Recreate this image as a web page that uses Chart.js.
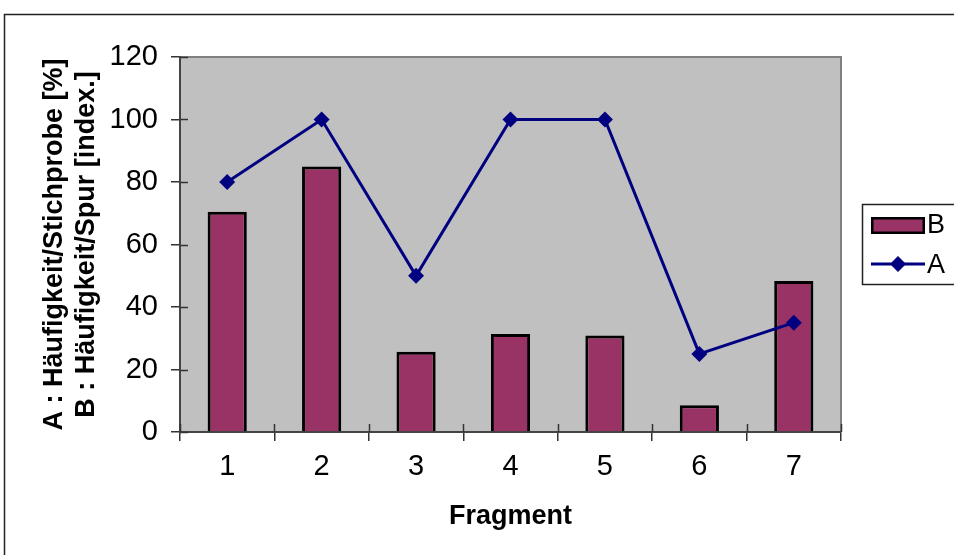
<!DOCTYPE html>
<html>
<head>
<meta charset="utf-8">
<script src="https://cdn.jsdelivr.net/npm/chart.js@4"></script>
<style>
  html, body { margin: 0; padding: 0; background: #fff; }
  #wrap { width: 954px; height: 555px; }
</style>
</head>
<body>
<div id="wrap"><canvas id="fragmentChart" width="954" height="555"></canvas></div>
<script>
// Fragment numbers and the two measured series
const fragments = ['1', '2', '3', '4', '5', '6', '7'];
const spurB = [70.5, 85, 25.7, 31.4, 30.9, 8.6, 48.3];
const stichprobeA = [80, 100, 50, 100, 100, 25, 35];
const yMin = 0;
const yMax = 120;
const yStep = 20;

const FONT = "'Liberation Sans', Arial, sans-serif";

// gray plot background, outer frame, cross ticks and legend box
const excelLook = {
  id: 'excelLook',
  beforeDraw(chart) {
    const { ctx, chartArea: a } = chart;
    ctx.save();
    ctx.fillStyle = '#fff';
    ctx.fillRect(0, 0, chart.width, chart.height);
    ctx.strokeStyle = '#222';
    ctx.lineWidth = 1.5;
    ctx.strokeRect(4.5, 14.5, chart.width + 20, chart.height + 20);
    ctx.fillStyle = '#c0c0c0';
    ctx.fillRect(a.left, a.top, a.right - a.left, a.bottom - a.top);
    ctx.strokeStyle = '#808080';
    ctx.lineWidth = 2;
    ctx.beginPath();
    ctx.moveTo(a.left, a.top);
    ctx.lineTo(a.right, a.top);
    ctx.lineTo(a.right, a.bottom);
    ctx.stroke();
    ctx.restore();
  },
  afterDraw(chart) {
    const { ctx, chartArea: a, scales } = chart;
    ctx.save();
    ctx.strokeStyle = '#333';
    ctx.lineWidth = 1.5;
    // inner halves of the ticks
    scales.y.ticks.forEach((t, i) => {
      const y = Math.round(scales.y.getPixelForTick(i)) + 0.5;
      ctx.beginPath();
      ctx.moveTo(a.left, y);
      ctx.lineTo(a.left + 8, y);
      ctx.stroke();
    });
    const n = fragments.length;
    for (let i = 0; i <= n; i++) {
      const x = Math.round(a.left + (a.right - a.left) * i / n) + 0.5;
      ctx.beginPath();
      ctx.moveTo(x, a.bottom - 8);
      ctx.lineTo(x, a.bottom);
      ctx.stroke();
    }

    // legend
    const bar = chart.data.datasets[1];
    const line = chart.data.datasets[0];
    ctx.strokeStyle = '#222';
    ctx.lineWidth = 1.5;
    ctx.strokeRect(862.5, 204.5, 120, 80);
    ctx.fillStyle = bar.backgroundColor;
    ctx.fillRect(871, 217, 54, 17);
    ctx.strokeStyle = bar.borderColor;
    ctx.lineWidth = 2.5;
    ctx.strokeRect(872.25, 218.25, 51.5, 14.5);
    ctx.strokeStyle = line.borderColor;
    ctx.lineWidth = 3;
    ctx.beginPath();
    ctx.moveTo(871, 264);
    ctx.lineTo(925, 264);
    ctx.stroke();
    ctx.fillStyle = line.borderColor;
    ctx.beginPath();
    ctx.moveTo(898, 256);
    ctx.lineTo(906, 264);
    ctx.lineTo(898, 272);
    ctx.lineTo(890, 264);
    ctx.closePath();
    ctx.fill();
    ctx.fillStyle = '#000';
    ctx.font = '27px ' + FONT;
    ctx.textBaseline = 'middle';
    ctx.textAlign = 'left';
    ctx.fillText(bar.label, 927, 226);
    ctx.fillText(line.label, 927, 266);
    ctx.restore();
  }
};

new Chart(document.getElementById('fragmentChart'), {
  type: 'bar',
  data: {
    labels: fragments,
    datasets: [
      {
        type: 'line',
        label: 'A',
        data: stichprobeA,
        borderColor: '#000080',
        backgroundColor: '#000080',
        borderWidth: 3,
        pointStyle: 'rectRot',
        pointRadius: 8,
        pointHoverRadius: 8,
        pointBorderWidth: 0,
        tension: 0,
        order: 0,
      },
      {
        label: 'B',
        data: spurB,
        backgroundColor: '#993366',
        borderColor: '#000',
        borderWidth: 3,
        barPercentage: 0.415,
        categoryPercentage: 1,
        order: 1,
      },
    ],
  },
  options: {
    responsive: false,
    animation: false,
    devicePixelRatio: 1,
    layout: { padding: { top: 57, right: 113, bottom: 0, left: 0 } },
    plugins: {
      legend: { display: false },
      tooltip: { enabled: false },
    },
    scales: {
      x: {
        afterFit: (s) => { s.height = 123; },
        grid: {
          display: true,
          drawOnChartArea: false,
          drawTicks: true,
          tickLength: 9,
          color: '#333',
          lineWidth: 1.5,
        },
        border: { display: true, color: '#444', width: 2 },
        ticks: {
          color: '#000',
          padding: 9,
          maxRotation: 0,
          font: { family: FONT, size: 29 },
        },
        title: {
          display: true,
          text: 'Fragment',
          color: '#000',
          padding: { top: 0, bottom: 22 },
          font: { family: FONT, size: 27, weight: 'bold' },
        },
      },
      y: {
        min: yMin,
        max: yMax,
        afterFit: (s) => { s.width = 180; },
        grid: {
          display: true,
          drawOnChartArea: false,
          drawTicks: true,
          tickLength: 9,
          color: '#333',
          lineWidth: 1.5,
        },
        border: { display: true, color: '#444', width: 2 },
        ticks: {
          stepSize: yStep,
          color: '#000',
          padding: 13,
          font: { family: FONT, size: 29 },
        },
        title: {
          display: true,
          text: ['A : Häufigkeit/Stichprobe [%]', 'B : Häufigkeit/Spur [index.]'],
          color: '#000',
          padding: { top: 38, bottom: 0 },
          font: { family: FONT, size: 27, weight: 'bold' },
        },
      },
    },
  },
  plugins: [excelLook],
});
</script>
</body>
</html>
